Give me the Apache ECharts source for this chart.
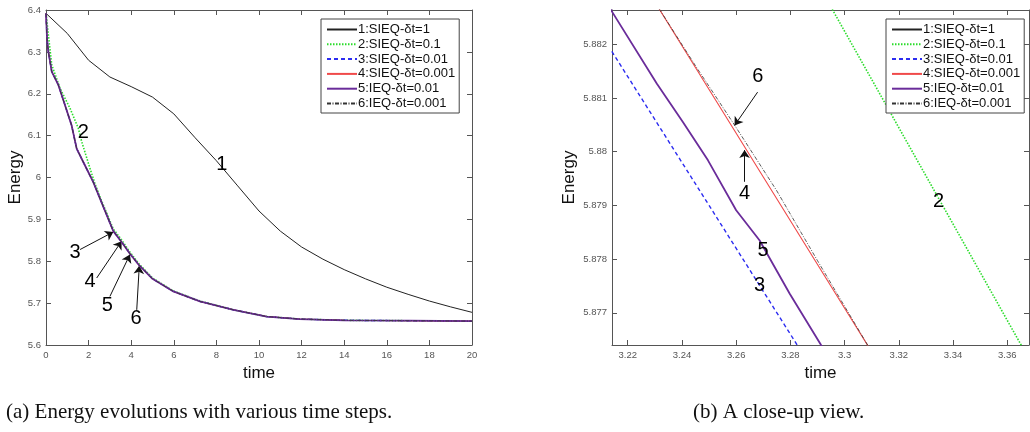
<!DOCTYPE html>
<html lang="en">
<head>
    <meta charset="UTF-8">
    <title>Energy evolutions</title>
    <style>
        * { margin: 0; padding: 0; }
        html, body { width: 100%; height: 100%; background: #fff; }
    </style>
    <script src="https://cdn.jsdelivr.net/npm/echarts@6/dist/echarts.min.js"></script>
</head>
<body>

<div id="main" style="width: 1030px;height: 432px;"></div>

<script>
    // series names (legend)
    var names = ['1:SIEQ-δt=1', '2:SIEQ-δt=0.1', '3:SIEQ-δt=0.01',
                 '4:SIEQ-δt=0.001', '5:IEQ-δt=0.01', '6:IEQ-δt=0.001'];

    // (a) full run, t in [0,20]
    var coarseT = [0, 1, 2, 3, 4, 5, 6, 7, 8, 9, 10, 11, 12, 13, 14, 15, 16, 17, 18, 19, 20];
    var coarseE = [6.392, 6.344, 6.280, 6.240, 6.217, 6.192, 6.152, 6.095, 6.040, 5.980, 5.920,
                   5.872, 5.834, 5.805, 5.780, 5.758, 5.738, 5.721, 5.705, 5.691, 5.678];

    var midT = [0, 0.05, 0.11, 0.27, 0.66, 1.13, 1.52, 1.68, 2.07, 2.3, 2.54, 3.16, 3.55, 3.94,
                4.38, 5.0, 5.98, 7.23, 8.8, 10.36, 11.9, 14, 17, 20];
    var midE = [6.392, 6.37, 6.341, 6.269, 6.213, 6.165, 6.117, 6.085, 6.021, 5.985, 5.953, 5.877,
                5.851, 5.822, 5.793, 5.760, 5.729, 5.705, 5.684, 5.668, 5.662, 5.659, 5.658, 5.657];

    // runs 3-6 overlap at this scale
    var fineT = [0, 0.05, 0.11, 0.27, 0.58, 0.89, 1.2, 1.44, 1.75, 2.22, 2.54, 3.16, 3.55, 3.94,
                 4.38, 5.0, 5.98, 7.23, 8.8, 10.36, 11.9, 14, 17, 20];
    var fineE = [6.392, 6.33, 6.301, 6.253, 6.221, 6.173, 6.125, 6.069, 6.037, 5.989, 5.949, 5.872,
                 5.846, 5.818, 5.790, 5.758, 5.728, 5.704, 5.684, 5.668, 5.662, 5.659, 5.658, 5.657];

    // (b) close-up
    var zoomT2 = [3.29, 3.37];
    var zoomE2 = [5.88314, 5.87596];
    var zoomT3 = [3.21, 3.25, 3.29];
    var zoomE3 = [5.8822, 5.8790, 5.8758];
    var zoomT4 = [3.23, 3.27, 3.31];
    var zoomE4 = [5.88279, 5.87953, 5.87627];
    var zoomT5 = [3.21, 3.2142, 3.2307, 3.2404, 3.2496, 3.26, 3.2686, 3.2797, 3.2913, 3.295];
    var zoomE5 = [5.88295, 5.88261, 5.88127, 5.88055, 5.87984, 5.87891, 5.87835, 5.87736, 5.8764, 5.8761];
    var zoomT6 = [3.23, 3.245, 3.26, 3.275, 3.29, 3.31];
    var zoomE6 = [5.88279, 5.8816, 5.88045, 5.87927, 5.87797, 5.87627];

    // ticks
    var ticksXa = [0, 2, 4, 6, 8, 10, 12, 14, 16, 18, 20];
    var ticksYa = [5.6, 5.7, 5.8, 5.9, 6, 6.1, 6.2, 6.3, 6.4];
    var ticksXb = [3.22, 3.24, 3.26, 3.28, 3.3, 3.32, 3.34, 3.36];
    var ticksYb = [5.877, 5.878, 5.879, 5.88, 5.881, 5.882];

    // curve numbers [t, E, text] and arrows [t0, E0, t1, E1]
    var labelsA = [[8.25, 6.032, '1'], [1.75, 6.108, '2'], [1.36, 5.820, '3'],
                   [2.07, 5.752, '4'], [2.88, 5.694, '5'], [4.23, 5.664, '6']];
    var arrowsA = [[1.60, 5.828, 3.16, 5.870], [2.38, 5.760, 3.55, 5.848],
                   [3.00, 5.716, 3.94, 5.816], [4.26, 5.684, 4.38, 5.789]];
    var labelsB = [[3.3346, 5.87908, '2'], [3.2686, 5.87751, '3'], [3.2631, 5.87922, '4'],
                   [3.2699, 5.87816, '5'], [3.2680, 5.88140, '6']];
    var arrowsB = [[3.2679, 5.88111, 3.2594, 5.88049], [3.2631, 5.87944, 3.2631, 5.88003]];

    function zip(t, e) {
        var out = [];
        for (var i = 0; i < t.length; i++) out.push([t[i], e[i]]);
        return out;
    }

    var styles = [
        {color: '#222', width: 1, type: 'solid'},
        {color: '#2bdc2b', width: 1.6, type: [1.5, 1.5]},
        {color: '#2c2cf0', width: 1.4, type: [4, 3]},
        {color: '#f04a4a', width: 1.1, type: 'solid'},
        {color: '#6a2c9a', width: 1.8, type: 'solid'},
        {color: '#333', width: 0.8, type: [4, 1.5, 1, 1.5]}
    ];

    function curve(i, data, axis) {
        return {
            name: names[i], type: 'line', data: data, symbol: 'none',
            xAxisIndex: axis, yAxisIndex: axis, silent: true,
            color: styles[i].color,
            lineStyle: {color: styles[i].color, width: styles[i].width, type: styles[i].type},
            z: 2 + i
        };
    }

    function notes(labels, arrows, axis) {
        return {
            type: 'scatter', xAxisIndex: axis, yAxisIndex: axis, silent: true,
            symbolSize: 0, itemStyle: {color: 'rgba(0,0,0,0)'}, z: 10,
            labelLayout: {hideOverlap: false},
            data: labels.map(function (l) { return {value: [l[0], l[1]], name: l[2]}; }),
            label: {
                show: true, position: 'inside', formatter: '{b}', opacity: 1,
                color: '#000', fontSize: 20, fontFamily: 'Liberation Sans',
                textBorderWidth: 0
            },
            markLine: {
                silent: true, symbol: ['none', 'arrow'], symbolSize: 8,
                label: {show: false},
                lineStyle: {color: '#111', width: 1, type: 'solid'},
                data: arrows.map(function (a) {
                    return [{coord: [a[0], a[1]]}, {coord: [a[2], a[3]]}];
                })
            }
        };
    }

    var axisGray = '#555';
    var tickLab = {color: '#555', fontSize: 9.5, fontFamily: 'Liberation Sans'};

    function xAxes(grid, min, max, ticks, fmt, name) {
        var base = {
            type: 'value', gridIndex: grid, min: min, max: max,
            splitLine: {show: false},
            axisLine: {onZero: false, lineStyle: {color: axisGray, width: 1}},
            axisTick: {inside: true, length: 5, customValues: ticks, lineStyle: {color: axisGray}}
        };
        var bottom = Object.assign({}, base, {
            position: 'bottom', name: name, nameLocation: 'middle', nameGap: 16,
            nameTextStyle: {fontSize: 17, color: '#111', fontFamily: 'Liberation Sans'},
            axisLabel: Object.assign({customValues: ticks, margin: 5, formatter: fmt}, tickLab)
        });
        var top = Object.assign({}, base, {position: 'top', axisLabel: {show: false}});
        return [bottom, top];
    }

    function yAxes(grid, min, max, ticks, fmt, gap) {
        var base = {
            type: 'value', gridIndex: grid, min: min, max: max,
            splitLine: {show: false},
            axisLine: {onZero: false, lineStyle: {color: axisGray, width: 1}},
            axisTick: {inside: true, length: 5, customValues: ticks, lineStyle: {color: axisGray}}
        };
        var left = Object.assign({}, base, {
            position: 'left', name: 'Energy', nameLocation: 'middle', nameGap: gap,
            nameTextStyle: {fontSize: 17, color: '#111', fontFamily: 'Liberation Sans'},
            axisLabel: Object.assign({customValues: ticks, margin: 5, formatter: fmt}, tickLab)
        });
        var right = Object.assign({}, base, {position: 'right', axisLabel: {show: false}});
        return [left, right];
    }

    function fmtN(d) {
        return function (v) { return String(Number(v.toFixed(d))); };
    }

    var xa = xAxes(0, 0, 20, ticksXa, fmtN(0), 'time');
    var xb = xAxes(1, 3.2142, 3.368, ticksXb, fmtN(2), 'time');
    var ya = yAxes(0, 5.6, 6.4, ticksYa, fmtN(1), 21);
    var yb = yAxes(1, 5.8764, 5.88264, ticksYb, fmtN(3), 34);

    function legend(left) {
        return {
            data: names, orient: 'vertical', left: left, top: 19,
            itemWidth: 30, itemHeight: 10, itemGap: 1.8,
            padding: [4, 4, 3, 5],
            borderColor: '#444', borderWidth: 1, backgroundColor: '#fff',
            selectedMode: false,
            itemStyle: {opacity: 0},
            textStyle: {fontSize: 13, lineHeight: 12, color: '#111', fontFamily: 'Liberation Sans',
                        padding: [0, 0, 0, -4]}
        };
    }

    var myChart = echarts.init(document.getElementById('main'), null, {renderer: 'canvas'});

    var captionStyle = {fontFamily: 'Liberation Serif', fontWeight: 'normal', fontSize: 21, color: '#111'};

    var option = {
        animation: false,
        backgroundColor: '#fff',
        title: [
            {text: '(a) Energy evolutions with various time steps.', left: 1, top: 397, textStyle: captionStyle},
            {text: '(b) A close-up view.', left: 688, top: 397, textStyle: captionStyle}
        ],
        legend: [legend(321), legend(886)],
        grid: [
            {left: 46, top: 10, width: 426, height: 335},
            {left: 612, top: 10, width: 417, height: 335}
        ],
        xAxis: [xa[0], xa[1], xb[0], xb[1]],
        yAxis: [ya[0], ya[1], yb[0], yb[1]],
        series: [
            curve(0, zip(coarseT, coarseE), 0),
            curve(1, zip(midT, midE), 0),
            curve(2, zip(fineT, fineE), 0),
            curve(3, zip(fineT, fineE), 0),
            curve(4, zip(fineT, fineE), 0),
            curve(5, zip(fineT, fineE), 0),
            notes(labelsA, arrowsA, 0),

            curve(1, zip(zoomT2, zoomE2), 2),
            curve(2, zip(zoomT3, zoomE3), 2),
            curve(3, zip(zoomT4, zoomE4), 2),
            curve(4, zip(zoomT5, zoomE5), 2),
            curve(5, zip(zoomT6, zoomE6), 2),
            notes(labelsB, arrowsB, 2)
        ]
    };
    myChart.setOption(option);
</script>

</body>
</html>
